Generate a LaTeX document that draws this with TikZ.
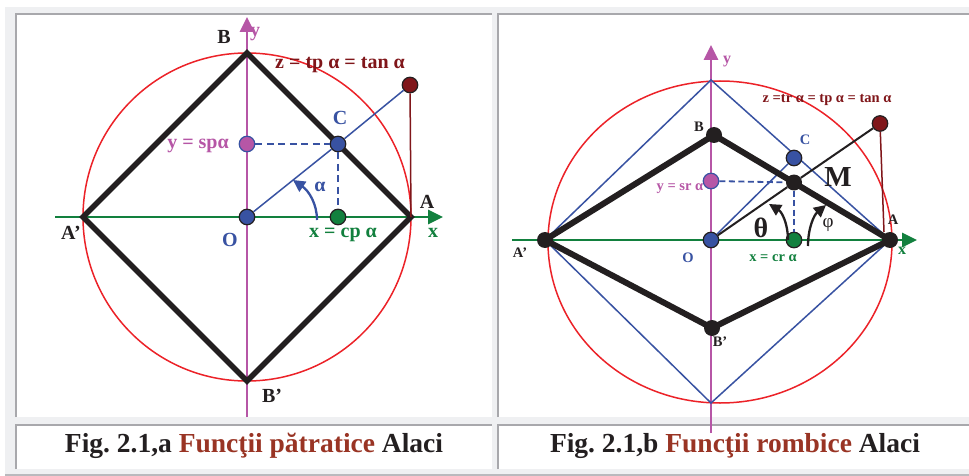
\documentclass[tikz,border=0pt]{standalone}
\usepackage{fontspec}
\setmainfont{Liberation Serif}
\usetikzlibrary{arrows.meta}
\frenchspacing
\definecolor{ringred}{RGB}{236,34,40}
\definecolor{ymag}{RGB}{182,86,166}
\definecolor{xgreen}{RGB}{18,128,62}
\definecolor{pblue}{RGB}{56,82,162}
\definecolor{zred}{RGB}{128,22,26}
\definecolor{capred}{RGB}{153,52,36}
\definecolor{ink}{RGB}{35,31,32}
\definecolor{tablegray}{RGB}{239,240,242}
\definecolor{framegray}{RGB}{168,168,172}
\tikzset{
  pnt/.style={circle,draw=ink,line width=1.2pt,inner sep=0pt,minimum size=15.5pt},
  vtx/.style={circle,fill=ink,inner sep=0pt,minimum size=16pt},
  labA/.style={inner sep=0pt,font=\bfseries\fontsize{20}{20}\selectfont},
  labB/.style={inner sep=0pt,font=\bfseries\fontsize{14.5}{14.5}\selectfont},
  axisline/.style={line width=2.7pt,-{Triangle[length=15pt,width=14pt]}},
  turnarrow/.style={line width=2.3pt,-{Triangle[length=12pt,width=12pt]}},
  thinline/.style={line width=1.5pt},
  dashA/.style={line width=1.8pt,dash pattern=on 7pt off 4.5pt},
  dashB/.style={line width=1.8pt,dash pattern=on 6pt off 3.5pt},
}
\begin{document}
\begin{tikzpicture}[x=1pt,y=-1pt]
    \useasboundingbox (0,0) rectangle (969,476);
    \fill[white] (0,0) rectangle (969,476);
    \fill[tablegray] (5,7) rectangle (969,476);
    \foreach \xa/\xb/\ya/\yb in {15/492/13/417,497/969/13/417,15/492/424/469,497/969/424/469}{
        \fill[white] (\xa,\ya) rectangle (\xb,\yb);
        \draw[framegray,line width=2.2pt] (\xa+1.1,\yb) -- (\xa+1.1,\ya+1.1) -- (\xb,\ya+1.1);
    }
    \draw[framegray!80,line width=1.6pt] (5,475) -- (969,475);

    \coordinate (xs1) at (55,217);
    \coordinate (xe1) at (443,217);
    \coordinate (ys1) at (247,417);
    \coordinate (ye1) at (247,17);
    \coordinate (A1) at (411,217);
    \coordinate (B1) at (247,53);
    \coordinate (Ap1) at (83,217);
    \coordinate (Bp1) at (247,381);
    \draw[ringred,line width=1.5pt] (247,217) circle[radius=164];
    \draw[xgreen,axisline] (xs1) -- (xe1);
    \draw[ymag,axisline] (ys1) -- (ye1);
    \draw[ink,line width=5.5pt] (Ap1) -- (B1) -- (A1) -- (Bp1) -- cycle;
    \node[pnt,fill=pblue] (O1) at (247,217) {};
    \node[pnt,fill=pblue] (C1) at (338,144) {};
    \node[pnt,fill=ymag,draw=pblue] (Y1) at (247,144) {};
    \node[pnt,fill=xgreen] (X1) at (338,217) {};
    \node[pnt,fill=zred] (Z1) at (410,85) {};
    \draw[pblue,thinline] (O1) -- (C1);
    \draw[pblue,thinline] (C1) -- (Z1);
    \draw[zred,thinline] (Z1) -- (A1);
    \draw[pblue,dashA] (Y1) -- (C1);
    \draw[pblue,dashA] (C1) -- (X1);
    \draw[pblue,turnarrow] (317,220) .. controls (317,204) and (309,191) .. (293,180);
    \node[labA,ink] (tB1) at (224,37) {B};
    \node[labA,ymag] (ty1) at (255,34) {y};
    \node[labA,zred] (tz1) at (340,65) {z = tp α = tan α};
    \node[labA,pblue] (tC1) at (340,118) {C};
    \node[labA,ymag] (tY1) at (198,146) {y = spα};
    \node[labA,pblue] (ta1) at (320,187) {α};
    \node[labA,ink] (tA1) at (427,202) {A};
    \node[labA,xgreen] (tx1) at (433,233) {x};
    \node[labA,ink] (tAp1) at (71,233) {A’};
    \node[labA,pblue] (tO1) at (230,240) {O};
    \node[labA,xgreen] (tX1) at (343,235) {x = cp α};
    \node[labA,ink] (tBp1) at (272,396) {B’};

    \coordinate (xs2) at (512,240);
    \coordinate (xe2) at (917,240);
    \coordinate (ys2) at (711,433);
    \coordinate (ye2) at (711,45);
    \coordinate (T2) at (711,80);
    \coordinate (D2) at (711,403);
    \coordinate (Zf2) at (884,232);
    \draw[ringred,line width=1.5pt] (720,242) ellipse[x radius=172,y radius=161];
    \draw[xgreen,axisline] (xs2) -- (xe2);
    \draw[ymag,axisline] (ys2) -- (ye2);
    \node[vtx] (Ap2) at (545,240) {};
    \node[vtx] (A2) at (890,240) {};
    \draw[pblue,thinline] (Ap2) -- (T2) -- (A2);
    \draw[pblue,thinline] (A2) -- (D2) -- (Ap2);
    \node[vtx] (B2) at (714,135) {};
    \node[vtx] (Bp2) at (712,328) {};
    \node[pnt,fill=pblue] (O2) at (711,240) {};
    \node[pnt,fill=pblue] (C2) at (794,158) {};
    \draw[pblue,thinline] (O2) -- (C2);
    \draw[ink,line width=6pt,line join=round] (Ap2.center) -- (B2.center) -- (A2.center) -- (Bp2.center) -- cycle;
    \node[vtx] (M2) at (794,182.5) {};
    \node[pnt,fill=ymag,draw=pblue] (Y2) at (711,181) {};
    \node[pnt,fill=xgreen] (X2) at (794,240) {};
    \node[pnt,fill=zred] (Z2) at (880,123.5) {};
    \draw[ink,line width=2pt] (O2) -- (M2);
    \draw[ink,line width=2pt] (M2) -- (Z2);
    \draw[zred,thinline] (Z2) -- (Zf2);
    \draw[pblue,dashB] (Y2) -- (M2);
    \draw[pblue,dashB] (M2) -- (X2);
    \draw[ink,turnarrow] (788,240) .. controls (788,224) and (782,212) .. (769,204);
    \draw[ink,turnarrow] (808,246) .. controls (808,228) and (814,215) .. (826,205);
    \node[labB,ymag,font=\bfseries\fontsize{16}{16}\selectfont] (ty2) at (727,62) {y};
    \node[labB,zred] (tz2) at (827,100) {z =tr α = tp α = tan α};
    \node[labB,ink] (tB2) at (699,127) {B};
    \node[labB,pblue] (tC2) at (805,140) {C};
    \node[labB,ink,font=\bfseries\fontsize{29}{29}\selectfont] (tM2) at (838,177) {M};
    \node[labB,ymag] (tY2) at (680,189) {y = sr α};
    \node[labB,ink,font=\bfseries\fontsize{28}{28}\selectfont] (tth2) at (761,228) {θ};
    \node[labB,ink,font=\fontsize{19}{19}\selectfont] (tph2) at (828,225) {φ};
    \node[labB,ink] (tA2) at (893,220) {A};
    \node[labB,xgreen,font=\bfseries\fontsize{16}{16}\selectfont] (tx2) at (902,251) {x};
    \node[labB,ink] (tAp2) at (520,253) {A’};
    \node[labB,pblue] (tO2) at (688,258) {O};
    \node[labB,xgreen] (tX2) at (773,258) {x = cr α};
    \node[labB,ink] (tBp2) at (720,342) {B’};

    \node[anchor=base,ink,font=\bfseries\fontsize{27.5}{30}\selectfont] (cap1) at (254,452) {Fig. 2.1,a \textcolor{capred}{Funcţii pătratice} Alaci};
    \node[anchor=base,ink,font=\bfseries\fontsize{27.5}{30}\selectfont] (cap2) at (735,452) {Fig. 2.1,b \textcolor{capred}{Funcţii rombice} Alaci};
\end{tikzpicture}
\end{document}
